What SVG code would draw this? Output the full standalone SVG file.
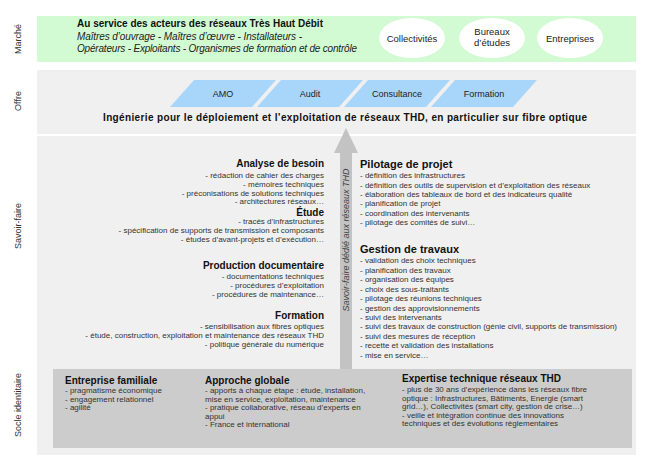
<svg xmlns="http://www.w3.org/2000/svg" width="651" height="465" viewBox="0 0 651 465">
<style>
text{font-family:"Liberation Sans",Arial,sans-serif;fill:#222}
.lbl{font-size:9px;fill:#333;text-anchor:middle}
.t{font-size:10px;font-weight:bold;fill:#111}
.tl{font-size:11px}
.i{font-size:8px;fill:#333}
.r{text-anchor:end}
.it{font-style:italic;font-size:10px;fill:#222}
.ell{fill:#fff}
.ellt{font-size:9.5px;text-anchor:middle;fill:#222}
.para{fill:#a8d6fb}
.pt{font-size:9px;text-anchor:middle;fill:#222}
</style>
<rect width="651" height="465" fill="#fff"/>
<!-- side labels -->
<g id="side-labels">
<text class="lbl" transform="translate(21,39) rotate(-90)">Marché</text>
<text class="lbl" transform="translate(21,101) rotate(-90)">Offre</text>
<text class="lbl" transform="translate(21,226) rotate(-90)">Savoir-faire</text>
<text class="lbl" transform="translate(21,405) rotate(-90)">Socle identitaire</text>
</g>
<!-- Marché -->
<g id="marche">
<rect x="37" y="16" width="599" height="46" fill="#d3fbd3"/>
<text class="t" x="77" y="27" textLength="246">Au service des acteurs des réseaux Très Haut Débit</text>
<text class="it" x="77" y="40" textLength="225">Maîtres d’ouvrage - Maîtres d’œuvre - Installateurs -</text>
<text class="it" x="77" y="52" textLength="280">Opérateurs - Exploitants - Organismes de formation et de contrôle</text>
</g>
<g id="collectivites"><ellipse class="ell" cx="412" cy="38" rx="33" ry="20"/><text class="ellt" x="412" y="41.5">Collectivités</text></g>
<g id="bureaux"><ellipse class="ell" cx="492" cy="38" rx="33" ry="20"/><text class="ellt" x="492" y="35">Bureaux</text><text class="ellt" x="492" y="46">d’études</text></g>
<g id="entreprises"><ellipse class="ell" cx="570" cy="38" rx="33" ry="20"/><text class="ellt" x="570" y="41.5">Entreprises</text></g>
<!-- Offre -->
<g id="offre">
<rect x="37" y="70" width="599" height="64" fill="#f0f0f0"/>
<text class="t" x="345" y="121" text-anchor="middle" textLength="484">Ingénierie pour le déploiement et l’exploitation de réseaux THD, en particulier sur fibre optique</text>
</g>
<g id="amo"><polygon class="para" points="170,107 194,80 276,80 252,107"/><text class="pt" x="223" y="97">AMO</text></g>
<g id="audit"><polygon class="para" points="257,107 281,80 363,80 339,107"/><text class="pt" x="310" y="97">Audit</text></g>
<g id="consultance"><polygon class="para" points="344,107 368,80 450,80 426,107"/><text class="pt" x="397" y="97">Consultance</text></g>
<g id="formation-offre"><polygon class="para" points="431,107 455,80 537,80 513,107"/><text class="pt" x="484" y="97">Formation</text></g>
<!-- Savoir-faire -->
<rect x="37" y="136" width="599" height="319" fill="#f0f0f0"/>
<g id="connectors">
<polygon points="346,128 358,153 352,153 352,370 340,370 340,153 334,153" fill="#c3c3c3"/>
<text transform="translate(349,240) rotate(-90)" style="font-size:9px;font-style:italic;fill:#444" text-anchor="middle">Savoir-faire dédié aux réseaux THD</text>
</g>
<g id="analyse">
<text class="t r" x="324" y="167">Analyse de besoin</text>
<text class="i r" x="324" y="178">- rédaction de cahier des charges</text>
<text class="i r" x="324" y="187">- mémoires techniques</text>
<text class="i r" x="324" y="195.5">- préconisations de solutions techniques</text>
<text class="i r" x="324" y="204">- architectures réseaux…</text>
</g>
<g id="etude">
<text class="t r" x="324" y="216">Étude</text>
<text class="i r" x="324" y="223.5">- tracés d’infrastructures</text>
<text class="i r" x="324" y="232.5">- spécification de supports de transmission et composants</text>
<text class="i r" x="324" y="241.5">- études d’avant-projets et d’exécution…</text>
</g>
<g id="production">
<text class="t r" x="324" y="269">Production documentaire</text>
<text class="i r" x="324" y="279">- documentations techniques</text>
<text class="i r" x="324" y="288">- procédures d’exploitation</text>
<text class="i r" x="324" y="297">- procédures de maintenance…</text>
</g>
<g id="formation">
<text class="t r" x="324" y="319">Formation</text>
<text class="i r" x="324" y="328.5">- sensibilisation aux fibres optiques</text>
<text class="i r" x="324" y="337.5">- étude, construction, exploitation et maintenance des réseaux THD</text>
<text class="i r" x="324" y="347">- politique générale du numérique</text>
</g>
<g id="pilotage">
<text class="t tl" x="360" y="168">Pilotage de projet</text>
<text class="i" x="360" y="178">- définition des infrastructures</text>
<text class="i" x="360" y="187.5">- définition des outils de supervision et d’exploitation des réseaux</text>
<text class="i" x="360" y="196.5">- élaboration des tableaux de bord et des indicateurs qualité</text>
<text class="i" x="360" y="206">- planification de projet</text>
<text class="i" x="360" y="215.5">- coordination des intervenants</text>
<text class="i" x="360" y="224.5">- pilotage des comités de suivi…</text>
</g>
<g id="gestion">
<text class="t tl" x="360" y="253">Gestion de travaux</text>
<text class="i" x="360" y="263">- validation des choix techniques</text>
<text class="i" x="360" y="272.5">- planification des travaux</text>
<text class="i" x="360" y="282">- organisation des équipes</text>
<text class="i" x="360" y="291.5">- choix des sous-traitants</text>
<text class="i" x="360" y="301">- pilotage des réunions techniques</text>
<text class="i" x="360" y="310.5">- gestion des approvisionnements</text>
<text class="i" x="360" y="320">- suivi des intervenants</text>
<text class="i" x="360" y="329">- suivi des travaux de construction (génie civil, supports de transmission)</text>
<text class="i" x="360" y="338.5">- suivi des mesures de réception</text>
<text class="i" x="360" y="348">- recette et validation des installations</text>
<text class="i" x="360" y="357.5">- mise en service…</text>
</g>
<!-- Socle identitaire -->
<rect x="53" y="369" width="579" height="79" fill="#cccccc"/>
<g id="entreprise-familiale">
<text class="t" x="65" y="384">Entreprise familiale</text>
<text class="i" x="65" y="393">- pragmatisme économique</text>
<text class="i" x="65" y="401.5">- engagement relationnel</text>
<text class="i" x="65" y="410">- agilité</text>
</g>
<g id="approche">
<text class="t" x="205" y="384">Approche globale</text>
<text class="i" x="205" y="393">- apports à chaque étape : étude, installation,</text>
<text class="i" x="205" y="401.5">mise en service, exploitation, maintenance</text>
<text class="i" x="205" y="410">- pratique collaborative, réseau d’experts en</text>
<text class="i" x="205" y="418.5">appui</text>
<text class="i" x="205" y="427">- France et international</text>
</g>
<g id="expertise">
<text class="t" x="402" y="382">Expertise technique réseaux THD</text>
<text class="i" x="402" y="392">- plus de 30 ans d’expérience dans les réseaux fibre</text>
<text class="i" x="402" y="400.5">optique : Infrastructures, Bâtiments, Energie (smart</text>
<text class="i" x="402" y="409">grid…), Collectivités (smart city, gestion de crise…)</text>
<text class="i" x="402" y="417.5">- veille et intégration continue des innovations</text>
<text class="i" x="402" y="425.5">techniques et des évolutions réglementaires</text>
</g>
</svg>
